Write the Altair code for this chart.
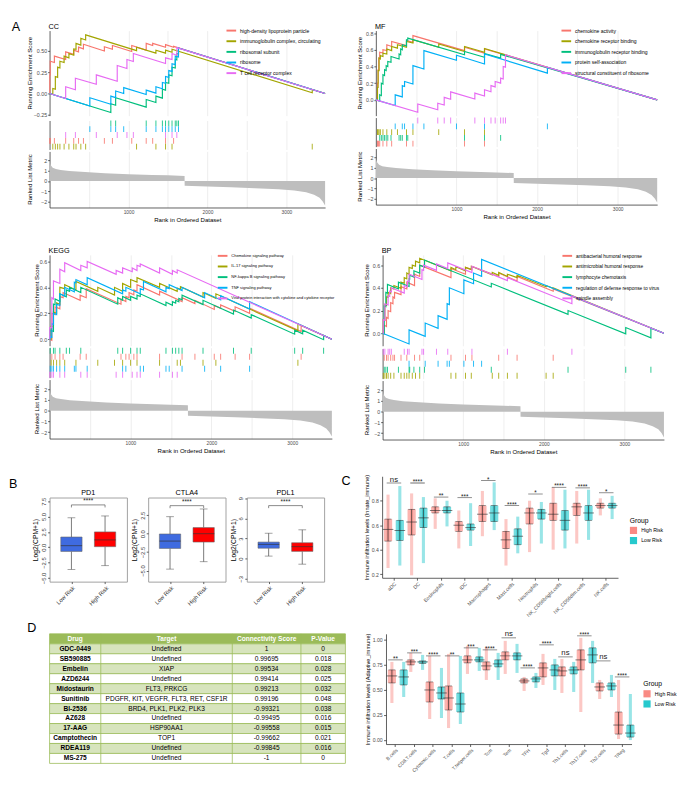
import altair as alt
import pandas as pd

FONT = "Liberation Sans"
HUE5 = ["#F8766D", "#A3A500", "#00BF7D", "#00B0F6", "#E76BF3"]
GRID = "#E6E6E6"
AXIS = "#333333"
LABEL = "#4D4D4D"

# ---------------- Panel A : GSEA ----------------
N_RANK = 3490
RANK_TICKS = [500, 1000, 1500, 2000, 2500, 3000]
METRIC_RANK = [0, 15, 40, 80, 140, 250, 450, 700, 1000, 1300, 1500, 1710, 1711, 2000, 2300,
               2600, 2900, 3100, 3250, 3350, 3420, 3460, 3490]
METRIC_VAL = [1.9, 1.55, 1.3, 1.17, 1.08, 0.98, 0.88, 0.77, 0.67, 0.6, 0.56, 0.5, -0.47, -0.55,
              -0.62, -0.7, -0.8, -0.92, -1.1, -1.35, -1.65, -2.0, -2.4]

CC_SETS = ["high-density lipoprotein particle", "immunoglobulin complex, circulating",
           "ribosomal subunit", "ribosome", "T cell receptor complex"]
CC_HITS = [
    [3, 8, 61, 204, 306, 367, 429, 694, 796, 1041, 1224, 1306, 1469, 1571],
    [41, 73, 102, 131, 184, 245, 306, 335, 396, 457, 1102, 1347, 1469, 1551, 3327],
    [776, 837, 1224, 1347, 1429, 1469, 1510, 1551, 1592, 1612, 1633],
    [510, 776, 837, 939, 1224, 1347, 1429, 1469, 1510, 1551, 1592, 1633],
    [204, 327, 592, 857, 980, 1061, 1469, 1551, 1612],
]
CC_LO = [
    [0.0, 0.22, 0.365, 0.40, 0.46, 0.49, 0.525, 0.50, 0.52, 0.495, 0.51, 0.565, 0.545, 0.545],
    [-0.012, 0.05, 0.19, 0.30, 0.365, 0.42, 0.45, 0.52, 0.57, 0.63, 0.505, 0.475, 0.475, 0.486, 0.01],
    [-0.223, -0.137, -0.16, -0.105, -0.054, 0.04, 0.12, 0.21, 0.30, 0.394, 0.464],
    [-0.146, -0.126, -0.048, 0.0, -0.012, 0.005, 0.056, 0.12, 0.19, 0.26, 0.34, 0.43],
    [-0.059, 0.045, 0.11, 0.145, 0.295, 0.377, 0.353, 0.40, 0.45],
]
CC_HI = [
    [0.22, 0.38, 0.44, 0.49, 0.51, 0.545, 0.58, 0.55, 0.565, 0.565, 0.59, 0.59, 0.575, 0.555],
    [0.06, 0.20, 0.31, 0.38, 0.44, 0.47, 0.525, 0.59, 0.65, 0.69, 0.545, 0.51, 0.51, 0.52, 0.047],
    [-0.12, -0.05, -0.07, -0.03, 0.05, 0.13, 0.22, 0.31, 0.40, 0.47, 0.535],
    [-0.05, -0.03, 0.03, 0.07, 0.04, 0.08, 0.13, 0.20, 0.27, 0.35, 0.44, 0.535],
    [0.08, 0.18, 0.22, 0.33, 0.40, 0.47, 0.42, 0.47, 0.54],
]
CC_ROW = [3, 4, 0, 1, 2]

MF_SETS = ["chemokine activity", "chemokine receptor binding", "immunoglobulin receptor binding",
           "protein self-association", "structural constituent of ribosome"]
MF_HITS = [
    [20, 28, 36, 48, 88, 136, 196, 380, 460, 1100, 1348],
    [20, 28, 40, 56, 88, 136, 196, 268, 380, 460, 780, 1100, 1348],
    [48, 68, 88, 108, 128, 148, 188, 288, 308, 328, 380, 396, 1100, 1348, 1548],
    [240, 328, 356, 460, 596, 1000, 1348, 2128],
    [520, 768, 848, 928, 1228, 1348, 1428, 1480, 1548, 1580, 1608],
]
MF_LO = [
    [0.0, 0.2, 0.36, 0.50, 0.56, 0.59, 0.64, 0.65, 0.69, 0.59, 0.56],
    [0.0, 0.15, 0.35, 0.49, 0.52, 0.55, 0.59, 0.62, 0.63, 0.68, 0.63, 0.58, 0.57],
    [-0.014, 0.05, 0.19, 0.29, 0.35, 0.40, 0.45, 0.49, 0.54, 0.60, 0.645, 0.715, 0.54, 0.51, 0.50],
    [-0.069, 0.035, 0.16, 0.19, 0.37, 0.474, 0.43, 0.32],
    [-0.149, -0.12, -0.063, 0.007, 0.009, 0.045, 0.097, 0.155, 0.20, 0.25, 0.392],
]
MF_HI = [
    [0.2, 0.36, 0.50, 0.57, 0.60, 0.66, 0.70, 0.71, 0.77, 0.63, 0.61],
    [0.15, 0.35, 0.50, 0.53, 0.56, 0.61, 0.64, 0.66, 0.70, 0.72, 0.67, 0.64, 0.615],
    [0.06, 0.20, 0.30, 0.36, 0.41, 0.46, 0.52, 0.55, 0.61, 0.66, 0.72, 0.74, 0.58, 0.555, 0.545],
    [0.06, 0.17, 0.22, 0.41, 0.59, 0.535, 0.55, 0.39],
    [-0.05, -0.04, 0.03, 0.095, 0.08, 0.12, 0.17, 0.22, 0.26, 0.40, 0.54],
]
MF_ROW = [4, 2, 3, 1, 0]

KEGG_SETS = ["Chemokine signaling pathway", "IL-17 signaling pathway", "NF-kappa B signaling pathway",
             "TNF signaling pathway", "Viral protein interaction with cytokine and cytokine receptor"]
KEGG_HITS = [
    [28, 68, 127, 167, 378, 453, 883, 943, 983, 1042, 1081, 1360, 1638, 1797, 2036, 2115, 2294, 2473, 3110],
    [20, 48, 87, 127, 187, 326, 596, 803, 903, 1002, 1081, 1360, 1578, 1618, 1897, 2056, 3070],
    [8, 48, 68, 127, 207, 247, 386, 843, 903, 1002, 1081, 1121, 1439, 1519, 1559, 1598, 1638, 1897,
     2274, 2493, 3030, 3129, 3388],
    [8, 28, 48, 87, 127, 187, 306, 326, 465, 903, 943, 1121, 1161, 1439, 1479, 1638, 1917, 2115, 2473],
    [3, 28, 48, 127, 187, 386, 465, 823, 903, 1022, 1081, 1121, 1360, 1519, 1578],
]
KEGG_LO = [
    [-0.008, 0.19, 0.235, 0.32, 0.30, 0.32, 0.27, 0.29, 0.32, 0.343, 0.37, 0.34, 0.29, 0.275, 0.23,
     0.238, 0.215, 0.20, 0.06],
    [0.0, 0.10, 0.20, 0.27, 0.39, 0.38, 0.37, 0.34, 0.37, 0.40, 0.44, 0.40, 0.37, 0.385, 0.325, 0.315, 0.065],
    [0.0, 0.06, 0.265, 0.293, 0.327, 0.369, 0.36, 0.27, 0.30, 0.30, 0.31, 0.33, 0.26, 0.262, 0.279,
     0.289, 0.304, 0.267, 0.194, 0.163, 0.039, 0.042, -0.003],
    [0.0, 0.015, 0.115, 0.19, 0.26, 0.333, 0.366, 0.434, 0.42, 0.35, 0.37, 0.35, 0.38, 0.365, 0.39,
     0.375, 0.32, 0.303, 0.232],
    [0.0, 0.09, 0.31, 0.43, 0.52, 0.53, 0.55, 0.50, 0.51, 0.52, 0.53, 0.56, 0.51, 0.50, 0.51],
]
KEGG_HI = [
    [0.20, 0.25, 0.33, 0.36, 0.34, 0.39, 0.31, 0.33, 0.36, 0.38, 0.42, 0.37, 0.32, 0.30, 0.26, 0.265,
     0.25, 0.24, 0.107],
    [0.10, 0.21, 0.28, 0.40, 0.42, 0.445, 0.40, 0.40, 0.43, 0.46, 0.475, 0.43, 0.395, 0.405, 0.36, 0.35, 0.118],
    [0.07, 0.27, 0.31, 0.35, 0.38, 0.40, 0.40, 0.32, 0.33, 0.33, 0.34, 0.35, 0.285, 0.29, 0.30, 0.315,
     0.34, 0.30, 0.225, 0.19, 0.07, 0.07, 0.03],
    [0.02, 0.12, 0.20, 0.27, 0.35, 0.40, 0.44, 0.46, 0.475, 0.38, 0.40, 0.39, 0.445, 0.40, 0.42, 0.40,
     0.36, 0.335, 0.29],
    [0.09, 0.32, 0.45, 0.54, 0.59, 0.57, 0.60, 0.53, 0.55, 0.55, 0.57, 0.58, 0.55, 0.53, 0.535],
]
KEGG_ROW = [1, 2, 0, 3, 4]

BP_SETS = ["antibacterial humoral response", "antimicrobial humoral response", "lymphocyte chemotaxis",
           "regulation of defense response to virus", "spindle assembly"]
BP_HITS = [
    [20, 48, 68, 100, 128, 148, 228, 300, 396, 460, 848, 1028, 1108, 1440, 1668, 2116],
    [8, 28, 48, 68, 100, 140, 228, 268, 300, 328, 368, 408, 460, 848, 908, 1028, 1100, 1360, 1440,
     1548, 1668, 2028, 2116],
    [20, 40, 60, 196, 328, 336, 388, 460, 520, 1348, 2300, 3016, 3328],
    [328, 528, 688, 800, 828, 1008, 1128, 1228],
    [8, 28, 68, 88, 108, 268, 308, 328, 488, 508, 668, 808, 1108, 1548, 2348],
]
BP_LO = [
    [0.0, 0.06, 0.13, 0.19, 0.26, 0.31, 0.34, 0.39, 0.42, 0.50, 0.49, 0.52, 0.56, 0.50, 0.46, 0.37],
    [0.0, 0.115, 0.245, 0.315, 0.35, 0.39, 0.395, 0.44, 0.48, 0.52, 0.57, 0.59, 0.62, 0.55, 0.56, 0.55,
     0.56, 0.515, 0.51, 0.50, 0.49, 0.41, 0.395],
    [-0.006, 0.234, 0.354, 0.39, 0.412, 0.478, 0.495, 0.53, 0.583, 0.408, 0.167, -0.005, -0.04],
    [-0.094, -0.027, 0.044, 0.123, 0.252, 0.348, 0.436, 0.501],
    [0.0, 0.114, 0.249, 0.324, 0.364, 0.354, 0.409, 0.454, 0.474, 0.554, 0.554, 0.57, 0.534, 0.464, 0.26],
]
BP_HI = [
    [0.07, 0.14, 0.20, 0.27, 0.32, 0.36, 0.41, 0.45, 0.52, 0.60, 0.57, 0.58, 0.59, 0.53, 0.50, 0.39],
    [0.12, 0.25, 0.32, 0.36, 0.40, 0.42, 0.45, 0.49, 0.53, 0.58, 0.60, 0.635, 0.66, 0.58, 0.585, 0.58,
     0.59, 0.535, 0.535, 0.52, 0.51, 0.42, 0.40],
    [0.24, 0.36, 0.43, 0.45, 0.48, 0.51, 0.55, 0.60, 0.645, 0.44, 0.20, 0.05, 0.045],
    [0.03, 0.09, 0.155, 0.26, 0.40, 0.47, 0.53, 0.65],
    [0.12, 0.26, 0.33, 0.37, 0.40, 0.42, 0.46, 0.52, 0.56, 0.60, 0.61, 0.62, 0.59, 0.49, 0.33],
]
BP_ROW = [1, 4, 3, 2, 0]

# ---------------- Panel B : boxplots ----------------
B_GENES = ["PD1", "CTLA4", "PDL1"]
B_GROUPS = ["Low Risk", "High Risk"]
B_LOW_WLO = [-3.6, -4.8, 0.4]
B_LOW_Q1 = [-0.68, -2.0, 1.57]
B_LOW_MED = [0.26, -1.0, 2.14]
B_LOW_Q3 = [1.67, -0.04, 2.48]
B_LOW_WHI = [4.8, 2.3, 3.8]
B_HIGH_WLO = [-3.0, -3.8, -0.8]
B_HIGH_Q1 = [0.1, -1.13, 1.1]
B_HIGH_MED = [1.2, 0.0, 1.8]
B_HIGH_Q3 = [2.5, 0.83, 2.38]
B_HIGH_WHI = [5.1, 3.35, 4.3]
B_SIG_Y = [6.9, 3.8, 7.9]
B_YDOM = [[-5.6, 8.1], [-6.5, 4.9], [-3.4, 9.1]]
B_YTICKS = [[-5, -2.5, 0, 2.5, 5, 7.5], [-5, -2.5, 0, 2.5], [-3, 0, 3, 6, 9]]
B_YFMT = [".1f", ".1f", "d"]

# ---------------- Panel C / D : immune infiltration ----------------
GROUPS = ["High Risk", "Low Risk"]
GROUP_COLORS = ["#F8766D", "#00BFC4"]

C_CELLS = ["aDC", "DC", "Eosinophils", "iDC", "Macrophages", "Mast.cells", "Neutrophils",
           "NK_CD56bright.cells", "NK_CD56dim.cells", "NK.cells"]
C_HIGH = [  # min, q1, median, q3, max
    [0.25, 0.19, 0.57, 0.41, 0.51, 0.27, 0.38, 0.40, 0.45, 0.68],
    [0.47, 0.52, 0.70, 0.55, 0.63, 0.41, 0.61, 0.64, 0.68, 0.74],
    [0.566, 0.626, 0.72, 0.60, 0.69, 0.48, 0.70, 0.69, 0.75, 0.76],
    [0.65, 0.73, 0.75, 0.63, 0.76, 0.55, 0.74, 0.78, 0.78, 0.78],
    [0.85, 0.86, 0.82, 0.72, 0.88, 0.65, 0.80, 0.91, 0.88, 0.82],
]
C_LOW = [
    [0.27, 0.29, 0.59, 0.43, 0.56, 0.37, 0.45, 0.41, 0.48, 0.65],
    [0.475, 0.58, 0.70, 0.56, 0.63, 0.44, 0.65, 0.56, 0.64, 0.74],
    [0.556, 0.66, 0.72, 0.58, 0.70, 0.51, 0.70, 0.64, 0.70, 0.76],
    [0.64, 0.74, 0.75, 0.61, 0.76, 0.57, 0.73, 0.72, 0.76, 0.78],
    [0.92, 0.83, 0.80, 0.78, 0.95, 0.67, 0.79, 0.89, 0.89, 0.84],
]
C_SIG = ["ns", "****", "**", "***", "*", "****", "*", "****", "****", "*"]
C_SIG_Y = [0.945, 0.945, 0.83, 0.825, 0.965, 0.76, 0.855, 0.91, 0.905, 0.865]

D_CELLS = ["B.cells", "CD8.T.cells", "Cytotoxic.cells", "T.cells", "T.helper.cells", "Tcm", "Tem",
           "TFH", "Tgd", "Th1.cells", "Th17.cells", "Th2.cells", "TReg"]
D_HIGH = [
    [0.37, 0.68, 0.21, 0.12, 0.66, 0.60, 0.66, 0.49, 0.55, 0.47, 0.28, 0.41, 0.01],
    [0.57, 0.75, 0.38, 0.30, 0.77, 0.70, 0.80, 0.57, 0.63, 0.64, 0.70, 0.49, 0.06],
    [0.64, 0.78, 0.50, 0.42, 0.80, 0.74, 0.84, 0.59, 0.72, 0.69, 0.80, 0.53, 0.15],
    [0.70, 0.80, 0.58, 0.54, 0.84, 0.78, 0.88, 0.61, 0.77, 0.73, 0.90, 0.57, 0.28],
    [0.78, 0.87, 0.84, 0.86, 0.94, 0.93, 0.99, 0.63, 0.86, 0.81, 1.02, 0.60, 0.60],
]
D_LOW = [
    [0.43, 0.70, 0.22, 0.16, 0.69, 0.60, 0.67, 0.52, 0.50, 0.48, 0.57, 0.43, 0.0],
    [0.55, 0.765, 0.41, 0.28, 0.78, 0.73, 0.80, 0.58, 0.64, 0.66, 0.77, 0.50, 0.03],
    [0.63, 0.78, 0.47, 0.36, 0.80, 0.76, 0.84, 0.61, 0.70, 0.70, 0.85, 0.54, 0.07],
    [0.70, 0.79, 0.53, 0.47, 0.83, 0.80, 0.87, 0.63, 0.75, 0.73, 0.92, 0.57, 0.15],
    [0.78, 0.85, 0.72, 0.84, 0.92, 0.87, 0.96, 0.67, 0.81, 0.78, 0.99, 0.65, 0.46],
]
D_SIG = ["**", "***", "****", "**", "***", "****", "ns", "****", "****", "ns", "****", "ns", "****"]
D_SIG_Y = [0.80, 0.87, 0.84, 0.84, 0.92, 0.90, 1.02, 0.72, 0.95, 0.83, 1.04, 0.79, 0.63]

# ---------------- Panel D : drug table ----------------
TABLE_HEAD = ["Drug", "Target", "Connectivity Score", "P-Value"]
DRUGS = ["GDC-0449", "SB590885", "Embelin", "AZD6244", "Midostaurin", "Sunitinib", "BI-2536",
         "AZ628", "17-AAG", "Camptothecin", "RDEA119", "MS-275"]
TARGETS = ["Undefined", "Undefined", "XIAP", "Undefined", "FLT3, PRKCG",
           "PDGFR, KIT, VEGFR, FLT3, RET, CSF1R", "BRD4, PLK1, PLK2, PLK3", "Undefined",
           "HSP90AA1", "TOP1", "Undefined", "Undefined"]
SCORES = [1, 0.99695, 0.99534, 0.99414, 0.99213, 0.99196, -0.99321, -0.99495, -0.99558,
          -0.99662, -0.99845, -1]
PVALS = [0, 0.018, 0.028, 0.025, 0.032, 0.048, 0.038, 0.016, 0.015, 0.021, 0.016, 0]


def label_text(txt, x, y, size, align="left", angle=0, baseline="alphabetic"):
    return alt.Chart(pd.DataFrame({"t": [txt]})).mark_text(
        fontSize=size, align=align, baseline=baseline, font=FONT, color="black", angle=angle
    ).encode(x=alt.value(x), y=alt.value(y), text="t:N")


def gsea_block(title, sets, hits, los, his, rows, ydom, yvals, yfmt, W, HT, HK, HM,
               title_x, leg_x, leg_y, leg_font, lead=None, left_pad=None):
    recs, trecs = [], []
    for k, name in enumerate(sets):
        pts = [(0, 0.0)]
        for r, lo, hi in zip(hits[k], los[k], his[k]):
            pts += [(r, lo), (r, hi)]
            trecs.append({"set": name, "rank": r, "row": rows[k]})
        pts.append((N_RANK, 0.0))
        for i, (x, y) in enumerate(pts):
            recs.append({"set": name, "k": k, "i": i, "rank": x, "es": y})
    curve = pd.DataFrame(recs)
    tdf = pd.DataFrame(trecs)
    mdf = pd.DataFrame({"rank": METRIC_RANK, "val": METRIC_VAL})

    xs = alt.Scale(domain=[0, N_RANK], nice=False, zero=False)
    grid_axis = alt.Axis(values=RANK_TICKS, labels=False, ticks=False, domain=False, title=None,
                         grid=True, gridColor=GRID, gridWidth=0.7)
    cscale = alt.Scale(domain=sets, range=HUE5)
    leg = alt.Legend(title=None, orient="none", legendX=leg_x, legendY=leg_y, symbolType="stroke",
                     symbolSize=100, symbolStrokeWidth=2, labelFontSize=leg_font, labelFont=FONT,
                     labelColor="black", labelLimit=400, rowPadding=1, padding=0, labelOffset=3)
    yax = alt.Axis(values=yvals, format=yfmt, title=None, grid=False, tickSize=2, labelPadding=1,
                   labelFontSize=5.5)
    layers = []
    for k in range(len(sets)):
        layers.append(
            alt.Chart(curve).transform_filter(alt.datum.k == k).mark_line(strokeWidth=1.2).encode(
                x=alt.X("rank:Q", scale=xs, axis=grid_axis),
                y=alt.Y("es:Q", scale=alt.Scale(domain=ydom, nice=False, zero=False), axis=yax),
                color=alt.Color("set:N", scale=cscale, legend=leg),
                order=alt.Order("i:Q"),
            )
        )
    layers.append(label_text(title, -1, -2, 7.5))
    layers.append(label_text("Running Enrichment Score", title_x, HT / 2, 6.3, align="center",
                             angle=270, baseline="middle"))
    if lead is not None:
        layers.append(label_text(lead, -39, 0, 13))
    if left_pad is not None:
        layers.append(alt.Chart(pd.DataFrame({"t": [0]})).mark_rule(strokeOpacity=0).encode(
            x=alt.value(left_pad), x2=alt.value(left_pad + 1), y=alt.value(5)))
    top = alt.layer(*layers).properties(width=W, height=HT)

    tick = alt.Chart(tdf).mark_tick(thickness=1, size=HK / 5.0, opacity=0.85).encode(
        x=alt.X("rank:Q", scale=xs, axis=grid_axis),
        y=alt.Y("row:O", scale=alt.Scale(type="band", domain=[0, 1, 2, 3, 4], paddingInner=0, paddingOuter=0),
                axis=alt.Axis(labels=False, ticks=False, title=None, domain=True, grid=False)),
        color=alt.Color("set:N", scale=cscale, legend=None),
    ).properties(width=W, height=HK)

    area = alt.Chart(mdf).mark_area(color="#BEBEBE").encode(
        x=alt.X("rank:Q", scale=xs,
                axis=alt.Axis(values=RANK_TICKS, format="d",
                              labelExpr="datum.value % 1000 == 0 ? datum.label : ''",
                              title="Rank in Ordered Dataset", grid=True, gridColor=GRID, gridWidth=0.7,
                              ticks=False, labelFontSize=5, titleFontSize=6.3, labelPadding=2,
                              titlePadding=2, domain=True)),
        y=alt.Y("val:Q", scale=alt.Scale(domain=[-2.6, 2.9], nice=False, zero=False),
                axis=alt.Axis(values=[-2, -1, 0, 1, 2], title=None, grid=False, tickSize=2,
                              labelPadding=1, labelFontSize=5.5)),
        y2=alt.Y2Datum(0),
    )
    metric = alt.layer(
        area,
        label_text("Ranked List Metric", title_x, HM / 2, 6.3, align="center", angle=270, baseline="middle"),
    ).properties(width=W, height=HM)

    return alt.vconcat(top, tick, metric, spacing=2).resolve_scale(color="independent")


def box_chart(gi, lead=False):
    W, H = 80, 87
    grp = B_GROUPS
    df = pd.DataFrame({
        "group": grp,
        "wlo": [B_LOW_WLO[gi], B_HIGH_WLO[gi]],
        "q1": [B_LOW_Q1[gi], B_HIGH_Q1[gi]],
        "med": [B_LOW_MED[gi], B_HIGH_MED[gi]],
        "q3": [B_LOW_Q3[gi], B_HIGH_Q3[gi]],
        "whi": [B_LOW_WHI[gi], B_HIGH_WHI[gi]],
    })
    lo, hi = B_YDOM[gi]
    drop = 0.03 * (hi - lo)
    br = pd.DataFrame({"g1": [grp[0]], "g2": [grp[1]], "y": [B_SIG_Y[gi]]})
    ends = pd.DataFrame({"group": grp, "y": [B_SIG_Y[gi]] * 2, "yb": [B_SIG_Y[gi] - drop] * 2})
    xs = alt.Scale(type="point", domain=grp, padding=0.65)
    ys = alt.Scale(domain=B_YDOM[gi], nice=False, zero=False)
    xax = alt.Axis(title=None, labelAngle=-45, labelFontSize=6, tickSize=2, labelPadding=1,
                   domain=False, labelColor="#333")
    yax = alt.Axis(title="Log2(CPM+1)", values=B_YTICKS[gi], format=B_YFMT[gi], labelAngle=-90,
                   labelAlign="center", labelBaseline="bottom", labelFontSize=6, titleFontSize=7,
                   tickSize=2, labelPadding=1, titlePadding=2, domain=False, grid=False, labelColor="#333")

    def X(f):
        return alt.X(f"{f}:N", scale=xs, axis=xax)

    def Y(f):
        return alt.Y(f"{f}:Q", scale=ys, axis=yax)

    base = alt.Chart(df)
    layers = [
        base.mark_rule(color="#555", strokeWidth=0.8).encode(x=X("group"), y=Y("wlo"), y2=alt.Y2("q1")),
        base.mark_rule(color="#555", strokeWidth=0.8).encode(x=X("group"), y=Y("q3"), y2=alt.Y2("whi")),
        base.mark_tick(color="#555", size=8, thickness=0.8).encode(x=X("group"), y=Y("wlo")),
        base.mark_tick(color="#555", size=8, thickness=0.8).encode(x=X("group"), y=Y("whi")),
        base.mark_bar(size=22, stroke="#666", strokeWidth=0.6).encode(
            x=X("group"), y=Y("q1"), y2=alt.Y2("q3"),
            color=alt.Color("group:N", scale=alt.Scale(domain=grp, range=["#3F6BE0", "#FF0000"]), legend=None)),
        base.mark_tick(color="#333", size=22, thickness=1).encode(x=X("group"), y=Y("med")),
        alt.Chart(br).mark_rule(color="#555", strokeWidth=0.7).encode(x=X("g1"), x2=alt.X2("g2"), y=Y("y")),
        alt.Chart(ends).mark_rule(color="#555", strokeWidth=0.7).encode(x=X("group"), y=Y("y"), y2=alt.Y2("yb")),
        alt.Chart(br).mark_text(text="****", fontSize=6.5, baseline="alphabetic", dy=-1.5, color="#222").encode(
            x=alt.value(W / 2), y=Y("y")),
        label_text(B_GENES[gi], W / 2, -3, 7.5, align="center"),
    ]
    if lead:
        layers.append(label_text("B", -42, -10, 13))
    return alt.layer(*layers).properties(
        width=W, height=H, view=alt.ViewBackground(stroke="#A0A0A0", strokeWidth=1))


def dist_chart(cells, hs, ls, sig, sig_y, ydom, yvals, yfmt, ytitle, W, H, leg_x, leg_y, lead=None,
               xfont=5.2):
    recs = []
    for i, c in enumerate(cells):
        for g, st in (("High Risk", hs), ("Low Risk", ls)):
            recs.append({"cell": c, "group": g, "mn": st[0][i], "q1": st[1][i], "med": st[2][i],
                         "q3": st[3][i], "mx": st[4][i]})
    df = pd.DataFrame(recs)
    sdf = pd.DataFrame({"cell": cells, "sig": sig, "y": sig_y})
    xax = alt.Axis(title=None, labelAngle=-45, labelFontSize=xfont, tickSize=2.5, labelPadding=1,
                   labelColor=LABEL)
    yax = alt.Axis(title=ytitle, values=yvals, format=yfmt, labelFontSize=5.3, titleFontSize=5.8,
                   tickSize=2.5, labelPadding=1.5, titlePadding=2, grid=False, labelColor=LABEL)
    X = alt.X("cell:N", scale=alt.Scale(domain=cells, paddingInner=0, paddingOuter=0), axis=xax)
    XO = alt.XOffset("group:N", scale=alt.Scale(domain=GROUPS, paddingInner=0, paddingOuter=0))
    ys = alt.Scale(domain=ydom, nice=False, zero=False)

    def Y(f):
        return alt.Y(f"{f}:Q", scale=ys, axis=yax)

    color = alt.Color("group:N", scale=alt.Scale(domain=GROUPS, range=GROUP_COLORS),
                      legend=alt.Legend(title="Group", orient="none", legendX=leg_x, legendY=leg_y,
                                        symbolType="square", symbolSize=55, symbolOpacity=0.85,
                                        symbolStrokeWidth=0, labelFontSize=5.3, titleFontSize=7,
                                        titleFontWeight="normal", rowPadding=2.5, titlePadding=3,
                                        labelOffset=4, labelColor="black", titleColor="black"))
    base = alt.Chart(df)
    dark = "#2B2B2B"
    layers = [
        base.mark_bar(size=3.2, opacity=0.4).encode(x=X, xOffset=XO, y=Y("mn"), y2=alt.Y2("mx"), color=color),
        base.mark_bar(size=8.5, opacity=0.55).encode(x=X, xOffset=XO, y=Y("q1"), y2=alt.Y2("q3"), color=color),
        base.mark_rule(color=dark, strokeWidth=0.7).encode(x=X, xOffset=XO, y=Y("q1"), y2=alt.Y2("q3")),
        base.mark_tick(color=dark, size=11, thickness=0.9).encode(x=X, xOffset=XO, y=Y("med")),
        base.mark_tick(color=dark, size=7, thickness=0.7).encode(x=X, xOffset=XO, y=Y("q1")),
        base.mark_tick(color=dark, size=7, thickness=0.7).encode(x=X, xOffset=XO, y=Y("q3")),
        alt.Chart(sdf).mark_tick(color="#333", size=15, thickness=0.8).encode(x=X, y=Y("y")),
        alt.Chart(sdf).transform_filter("datum.sig == 'ns'").mark_text(
            fontSize=8, baseline="alphabetic", dy=-1.5, color="#222").encode(x=X, y=Y("y"), text="sig:N"),
        alt.Chart(sdf).transform_filter("datum.sig != 'ns'").mark_text(
            fontSize=6.5, baseline="alphabetic", dy=1.0, color="#222").encode(x=X, y=Y("y"), text="sig:N"),
    ]
    if lead is not None:
        layers.append(label_text(lead, -42, 9.5, 13))
    return alt.layer(*layers).properties(width=W, height=H)


def table_chart():
    TW, TH = 306, 134
    recs = [{"r": 0, "kind": "header", "drug": TABLE_HEAD[0], "target": TABLE_HEAD[1],
             "score": TABLE_HEAD[2], "pval": TABLE_HEAD[3]}]
    for i in range(len(DRUGS)):
        recs.append({"r": i + 1, "kind": "shade" if i % 2 == 0 else "plain", "drug": DRUGS[i],
                     "target": TARGETS[i], "score": f"{SCORES[i]:g}", "pval": f"{PVALS[i]:g}"})
    df = pd.DataFrame(recs)
    Y = alt.Y("r:O", scale=alt.Scale(type="band", paddingInner=0, paddingOuter=0), axis=None)
    green = "#9BBB59"
    bg = alt.Chart(df).mark_rect(stroke=green, strokeWidth=0.8).encode(
        x=alt.value(0), x2=alt.value(TW), y=Y,
        fill=alt.Fill("kind:N", scale=alt.Scale(domain=["header", "shade", "plain"],
                                                range=[green, "#D7E4BD", "#FFFFFF"]), legend=None))
    one = pd.DataFrame({"t": [0]})
    seps = [alt.Chart(one).mark_rule(color=green, strokeWidth=0.8).encode(
        x=alt.value(p), y=alt.value(0), y2=alt.value(TH)) for p in (53, 189, 260)]
    head = df[df.kind == "header"]
    body = df[df.kind != "header"]
    cols = [("drug", 26.5), ("target", 121), ("score", 224.5), ("pval", 283)]
    texts = []
    for f, cx in cols:
        texts.append(alt.Chart(head).mark_text(fontSize=6.8, fontWeight="bold", color="white").encode(
            x=alt.value(cx), y=Y, text=f"{f}:N"))
        texts.append(alt.Chart(body).mark_text(fontSize=6.8, fontWeight="bold" if f == "drug" else "normal",
                                               color="black").encode(x=alt.value(cx), y=Y, text=f"{f}:N"))
    return alt.layer(bg, *seps, *texts, label_text("D", -23, -2, 13)).properties(width=TW, height=TH)


cc = gsea_block("CC", CC_SETS, CC_HITS, CC_LO, CC_HI, CC_ROW, [-0.26, 0.74], [-0.25, 0, 0.25, 0.5],
                ".2f", 285, 88, 30, 58, -20, 182, -6, 5.2, lead="A")
mf = gsea_block("MF", MF_SETS, MF_HITS, MF_LO, MF_HI, MF_ROW, [-0.19, 0.83], [0, 0.2, 0.4, 0.6, 0.8],
                ".1f", 291, 88, 30, 58, -16, 191, -6, 5.2)
kegg = gsea_block("KEGG", KEGG_SETS, KEGG_HITS, KEGG_LO, KEGG_HI, KEGG_ROW, [-0.05, 0.65],
                  [0, 0.2, 0.4, 0.6], ".1f", 292, 94, 31, 61, -13, 173, -5, 4.1, left_pad=-32)
bp = gsea_block("BP", BP_SETS, BP_HITS, BP_LO, BP_HI, BP_ROW, [-0.11, 0.69], [0, 0.2, 0.4, 0.6],
                ".1f", 291, 94, 31, 61, -16, 185, -5, 5.0)

row1 = alt.hconcat(cc, mf, spacing=29.5).resolve_scale(color="independent")
row2 = alt.hconcat(kegg, bp, spacing=29.5).resolve_scale(color="independent")

spacer = alt.Chart(pd.DataFrame({"t": [0]})).mark_rule(strokeOpacity=0).encode(
    x=alt.value(0), y=alt.value(0)).properties(width=1, height=1)
b_block = alt.hconcat(box_chart(0, lead=True), box_chart(1), box_chart(2), spacing=2).resolve_scale(
    color="independent")
b_side = alt.vconcat(spacer, b_block, spacing=0).resolve_scale(color="independent")
c_chart = dist_chart(C_CELLS, C_HIGH, C_LOW, C_SIG, C_SIG_Y, [0.17, 1.0], [0.2, 0.4, 0.6, 0.8], ".1f",
                     "Immune infiltration levels (Innate_immune)", 244, 105, 256, 42, lead="C")
row3 = alt.hconcat(b_side, c_chart, spacing=17).resolve_scale(color="independent")

d_chart = dist_chart(D_CELLS, D_HIGH, D_LOW, D_SIG, D_SIG_Y, [-0.04, 1.06], [0, 0.25, 0.5, 0.75, 1.0],
                     ".2f", "Immune infiltration levels (Adaptive_immune)", 254, 114, 266, 48, xfont=5.0)
row4 = alt.hconcat(table_chart(), d_chart, spacing=18).resolve_scale(color="independent")

upper = alt.vconcat(row1, row2, spacing=25).resolve_scale(color="independent")
lower = alt.vconcat(row3, row4, spacing=4).resolve_scale(color="independent")

chart = alt.vconcat(upper, lower, spacing=19).resolve_scale(color="independent").properties(
    padding=0
).configure(font=FONT).configure_view(stroke=None).configure_axis(
    labelFont=FONT, titleFont=FONT, labelColor=LABEL, titleColor="black", titleFontWeight="normal",
    domainColor=AXIS, tickColor=AXIS, domainWidth=0.8, tickWidth=0.8
).configure_legend(labelFont=FONT, titleFont=FONT)

chart.save("out.html", embed_options={"renderer": "svg", "actions": False})
